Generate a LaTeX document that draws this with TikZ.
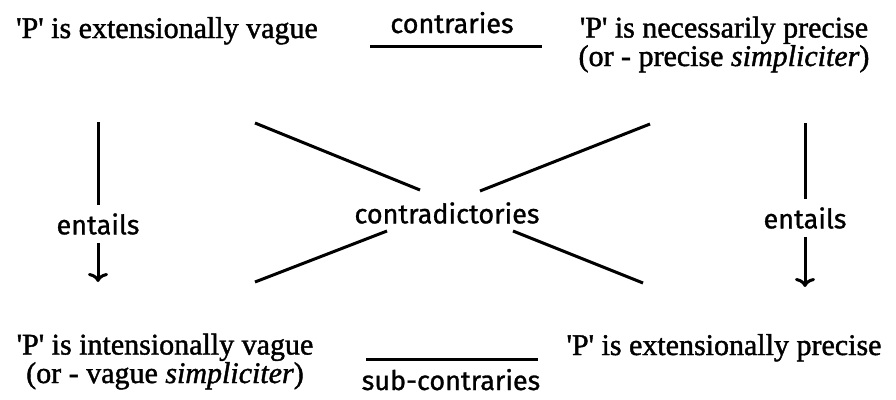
\documentclass[tikz,border=0pt]{standalone}
\usepackage{fontspec}
\setmainfont{Liberation Serif}[FakeBold=1.4]
\newfontfamily\lblfont{Fira Sans}[FakeBold=1]
\usetikzlibrary{arrows.meta}

\newcommand{\qP}{\textquotesingle P\textquotesingle}
\newcommand{\tightlines}{\lineskiplimit=-40pt\relax}

\begin{document}
\begin{tikzpicture}[x=1pt,y=-1pt,
  stmt/.style={inner sep=0pt, anchor=base, align=center,
    font=\fontsize{30}{28.5}\selectfont\tightlines},
  lbl/.style={inner sep=0pt, anchor=base, font=\lblfont\fontsize{27}{30}\selectfont},
  ent/.style={inner sep=8pt, font=\lblfont\fontsize{27}{30}\selectfont},
  rel/.style={line width=3pt},
  entarrow/.style={line width=3pt, -{To[length=9pt,width=20pt,line width=3pt]}}]
  \useasboundingbox (0,0) rectangle (896,399);

  % the four statements (base = last line)
  \node[stmt] (ev) at (167,38) {\qP{} is extensionally vague};
  \node[stmt] (np) at (724,66) {\qP{} is necessarily precise\\(or - precise \textit{simpliciter})};
  \node[stmt] (iv) at (165,383) {\qP{} is intensionally vague\\(or - vague \textit{simpliciter})};
  \node[stmt] (ep) at (724,355) {\qP{} is extensionally precise};

  % relations
  \node[lbl] (contr) at (452,33) {contraries};
  \coordinate (ca) at (370,46);
  \coordinate (cb) at (542,46);
  \draw[rel] (ca) -- (cb);

  \node[lbl] (sub) at (451,390) {sub-contraries};
  \coordinate (sa) at (366,359);
  \coordinate (sb) at (538,359);
  \draw[rel] (sa) -- (sb);

  \node[lbl, anchor=center] (contra) at (447,213) {contradictories};
  \coordinate (d1a) at (255,123);
  \coordinate (d1b) at (420,190);
  \coordinate (d2a) at (650,124);
  \coordinate (d2b) at (480,191);
  \coordinate (d3a) at (387,231);
  \coordinate (d3b) at (255,282);
  \coordinate (d4a) at (513,231);
  \coordinate (d4b) at (643,283);
  \draw[rel] (d1a) -- (d1b);
  \draw[rel] (d2a) -- (d2b);
  \draw[rel] (d3a) -- (d3b);
  \draw[rel] (d4a) -- (d4b);

  % entailments
  \node[ent] (entl) at (98,224) {entails};
  \coordinate (lt) at (98,122);
  \coordinate (lb) at (98,282);
  \draw[rel] (lt) -- (entl);
  \draw[entarrow] (entl) -- (lb);

  \node[ent] (entr) at (805,218) {entails};
  \coordinate (rt) at (805,123);
  \coordinate (rb) at (805,287);
  \draw[rel] (rt) -- (entr);
  \draw[entarrow] (entr) -- (rb);
\end{tikzpicture}
\end{document}
